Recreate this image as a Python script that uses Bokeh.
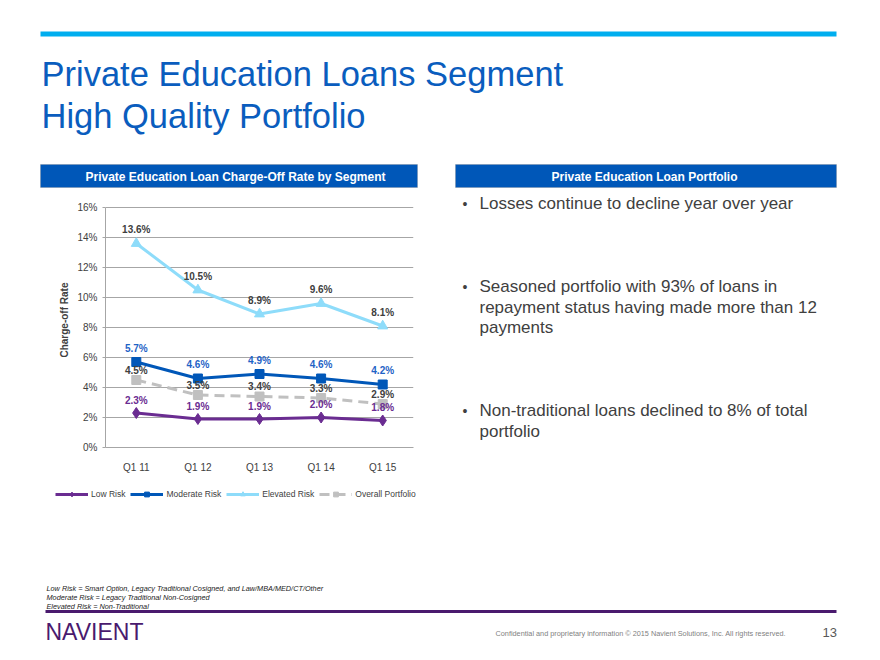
from bokeh.plotting import figure
from bokeh.models import (Range1d, Label, Legend, LegendItem, ColumnDataSource,
                          LabelSet, FixedTicker, FactorRange, BoxAnnotation)
from bokeh.layouts import column, row
from bokeh.embed import file_html
from bokeh.resources import INLINE
from bokeh.core.properties import value

# ---------------- data ----------------
quarters = ["Q1 11", "Q1 12", "Q1 13", "Q1 14", "Q1 15"]
low_risk = [2.3, 1.9, 1.9, 2.0, 1.8]
moderate_risk = [5.7, 4.6, 4.9, 4.6, 4.2]
elevated_risk = [13.6, 10.5, 8.9, 9.6, 8.1]
overall_portfolio = [4.5, 3.5, 3.4, 3.3, 2.9]
y_ticks = [0, 2, 4, 6, 8, 10, 12, 14, 16]
series_names = ["Low Risk", "Moderate Risk", "Elevated Risk", "Overall Portfolio"]

FONT = "Liberation Sans"
W = 880
BLUE = "#0057B8"
CYAN = "#00AEEF"
PURPLE = "#6A2C91"
LIGHT = "#8EDCFA"
GRAY = "#C0C0C0"
DARK_PURPLE = "#4A1A6E"
TEXT = "#404040"

TOP_H = 190
MID_H = 285
BOT_H = 660 - TOP_H - MID_H
CHART_W = 438
B_TOP, B_BOT = 2, 28          # chart borders (frame 255 px high, 0..17 %)

STYLES = [  # (line kwargs, marker kwargs) per series
    (dict(line_color=PURPLE, line_width=3), dict(marker="diamond", size=11, color=PURPLE)),
    (dict(line_color=BLUE, line_width=3), dict(marker="square", size=9, color=BLUE)),
    (dict(line_color=LIGHT, line_width=3), dict(marker="triangle", size=10, color=LIGHT)),
    (dict(line_color=GRAY, line_width=3, line_dash="10 6"), dict(marker="square", size=9, color=GRAY)),
]


def canvas(w, h, top=0, bottom=0):
    f = figure(width=w, height=h, x_range=Range1d(0, w), y_range=Range1d(h - bottom, top),
               output_backend="svg", toolbar_location=None, min_border=0,
               min_border_top=top, min_border_bottom=bottom,
               x_axis_location=None, y_axis_location=None)
    f.grid.visible = False
    f.outline_line_color = None
    return f


def lab(f, x, y, text, size, color=TEXT, style="normal", align="left", baseline="middle"):
    f.add_layout(Label(x=x, y=y, text=text, text_font=FONT, text_font_size=size,
                       text_color=color, text_font_style=style, text_align=align,
                       text_baseline=baseline))


# ---------------- top section ----------------
top = canvas(W, TOP_H)
top.add_layout(BoxAnnotation(left=40, right=836, top=31, bottom=36, fill_color=CYAN,
                             fill_alpha=1, line_color=None))
lab(top, 41, 73, "Private Education Loans Segment", "34.5px", color="#0A5DBE")
lab(top, 41, 115, "High Quality Portfolio", "34.5px", color="#0A5DBE")
top.add_layout(BoxAnnotation(left=40, right=417, top=164, bottom=187, fill_color=BLUE,
                             fill_alpha=1, line_color="#7F7F7F", line_width=1))
top.add_layout(BoxAnnotation(left=455, right=836, top=164, bottom=187, fill_color=BLUE,
                             fill_alpha=1, line_color="#7F7F7F", line_width=1))
lab(top, 235, 176, "Private Education Loan Charge-Off Rate by Segment", "12px",
    color="white", style="bold", align="center")
lab(top, 644, 176, "Private Education Loan Portfolio", "12px",
    color="white", style="bold", align="center")

# ---------------- chart ----------------
src = ColumnDataSource(dict(
    q=quarters,
    low=low_risk, mod=moderate_risk, elev=elevated_risk, overall=overall_portfolio,
    low_t=[f"{v:.1f}%" for v in low_risk],
    mod_t=[f"{v:.1f}%" for v in moderate_risk],
    elev_t=[f"{v:.1f}%" for v in elevated_risk],
    overall_t=[f"{v:.1f}%" for v in overall_portfolio],
))

p = figure(width=CHART_W, height=MID_H, x_range=FactorRange(*quarters),
           y_range=Range1d(0, y_ticks[-1] + 1),
           output_backend="svg", toolbar_location=None,
           min_border_left=105, min_border_right=25, min_border_top=B_TOP, min_border_bottom=B_BOT)
p.outline_line_color = None
p.xgrid.grid_line_color = None
p.ygrid.grid_line_color = "#A6A6A6"
p.ygrid.grid_line_width = 1
p.yaxis.ticker = FixedTicker(ticks=y_ticks)
p.yaxis.bounds = (y_ticks[0], y_ticks[-1])
p.yaxis.major_label_overrides = {t: f"{t}%" for t in y_ticks}
p.yaxis.axis_line_color = "#A6A6A6"
p.yaxis.major_tick_line_color = "#A6A6A6"
p.yaxis.major_tick_in = 0
p.yaxis.major_tick_out = 3
p.yaxis.minor_tick_line_color = None
p.yaxis.axis_label = "Charge-off Rate"
p.yaxis.axis_label_text_font = FONT
p.yaxis.axis_label_text_font_size = "10px"
p.yaxis.axis_label_text_font_style = "bold"
p.yaxis.axis_label_text_color = TEXT
p.yaxis.axis_label_standoff = 4
p.xaxis.axis_line_color = "#A6A6A6"
p.xaxis.major_tick_line_color = None
p.xaxis.major_label_standoff = 8
for ax in (p.xaxis, p.yaxis):
    ax.major_label_text_font = FONT
    ax.major_label_text_font_size = "10px"
    ax.major_label_text_color = TEXT

fields = ["low", "mod", "elev", "overall"]
draw_order = [3, 0, 2, 1]
for i in draw_order:
    lk, mk = STYLES[i]
    p.line("q", fields[i], source=src, **lk)
    p.scatter("q", fields[i], source=src, **mk)

for field, color, off in (("elev", TEXT, 14), ("mod", "#1F63C6", 14),
                          ("overall", TEXT, 10), ("low", PURPLE, 13)):
    p.add_layout(LabelSet(x="q", y=field, text=field + "_t", source=src, y_offset=off,
                          text_align="center", text_baseline="middle",
                          text_font=value(FONT), text_font_size="10px",
                          text_font_style="bold", text_color=color))

# ---------------- right text ----------------
right = canvas(W - CHART_W, MID_H, top=B_TOP, bottom=B_BOT)
bullets = [
    (13, ["Losses  continue to decline year over year"]),
    (96, ["Seasoned portfolio with 93% of loans in",
          "repayment status having made more than 12",
          "payments"]),
    (220, ["Non-traditional loans declined to 8% of total", "portfolio"]),
]
for y0, lines in bullets:
    lab(right, 24, y0, "•", "14px")
    for i, t in enumerate(lines):
        lab(right, 41, y0 + i * 20.5, t, "17px")

# ---------------- bottom section (legend + footer) ----------------
bottom = canvas(W, BOT_H)
nan = float("nan")
proxy = ColumnDataSource(dict(x=[nan], y=[nan]))   # legend swatches only
items = []
for i, name in enumerate(series_names):
    lk, mk = STYLES[i]
    rl = bottom.line("x", "y", source=proxy, **lk)
    rm = bottom.scatter("x", "y", source=proxy, **mk)
    items.append(LegendItem(label=name, renderers=[rl, rm]))
legend = Legend(items=items, orientation="horizontal", location=(55, 160))
legend.label_text_font = FONT
legend.label_text_font_size = "8.5px"
legend.label_text_color = TEXT
legend.glyph_width = 33
legend.glyph_height = 12
legend.label_height = 12
legend.label_standoff = 3
legend.spacing = 5
legend.padding = 0
legend.margin = 0
legend.border_line_color = None
legend.background_fill_alpha = 0
bottom.add_layout(legend)

notes = ["Low Risk = Smart Option, Legacy Traditional Cosigned, and Law/MBA/MED/CT/Other",
         "Moderate Risk = Legacy Traditional Non-Cosigned",
         "Elevated Risk = Non-Traditional"]
for i, t in enumerate(notes):
    lab(bottom, 46, 113 + i * 9, t, "7.3px", color="#222222", style="italic")
bottom.add_layout(BoxAnnotation(left=45, right=836, top=134.5, bottom=137.5,
                                fill_color=DARK_PURPLE, fill_alpha=1, line_color=None))
lab(bottom, 45, 156, "NAVIENT", "23px", color=DARK_PURPLE)
lab(bottom, 495, 158, "Confidential and proprietary information © 2015 Navient Solutions, Inc. All rights reserved.",
    "7.3px", color="#7F7F7F")
lab(bottom, 822, 157, "13", "13px", color="#595959")

layout = column(top, row(p, right), bottom)
open("out.html", "w").write(file_html(layout, INLINE))
